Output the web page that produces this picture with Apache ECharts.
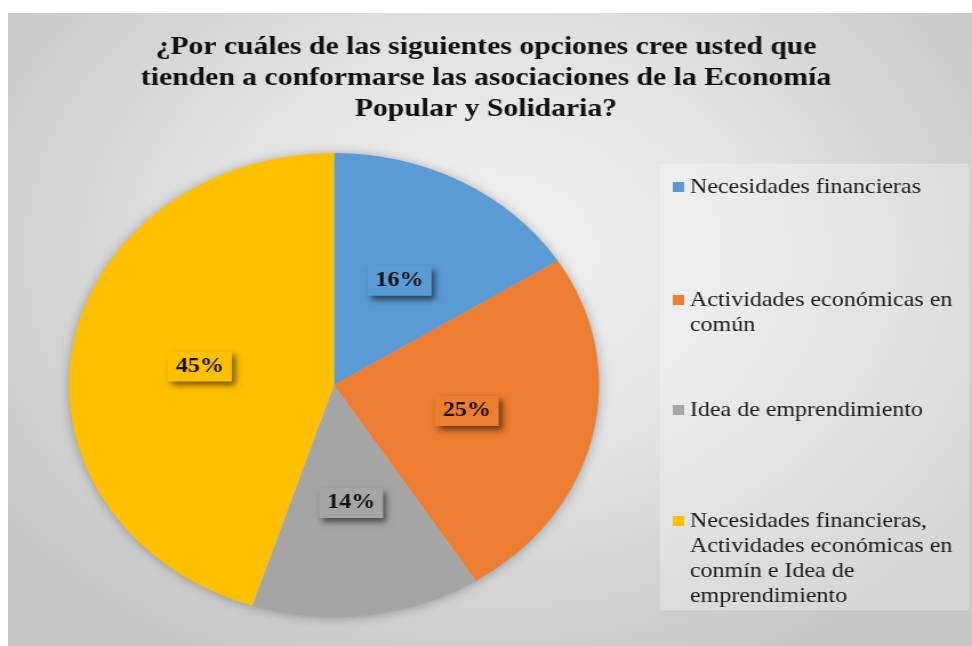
<!DOCTYPE html>
<html>
<head>
<meta charset="utf-8">
<script src="https://cdn.jsdelivr.net/npm/echarts/dist/echarts.min.js"></script>
<style>
  html, body { margin: 0; padding: 0; background: #ffffff; }
  #page { position: relative; width: 972px; height: 646px; overflow: hidden; background: #ffffff; }
  #bg { position: absolute; left: 8px; top: 13px; width: 964px; height: 633px;
        background: radial-gradient(ellipse 62% 72% at 50% 38%, #f2f2f2 0%, #e3e3e3 45%, #c6c6c6 100%); }
  #chart { position: absolute; left: 0; top: 0; width: 851px; height: 646px;
           transform: scaleX(1.1422); transform-origin: 0 0; }
</style>
</head>
<body>
<div id="page">
  <div id="bg"></div>
  <div id="chart"></div>
</div>
<script>
// ---- data ----
const titleText = '¿Por cuáles de las siguientes opciones cree usted que\ntienden a conformarse las asociaciones de la Economía\nPopular y Solidaria?';
const categories = [
  'Necesidades financieras',
  'Actividades económicas en común',
  'Idea de emprendimiento',
  'Necesidades financieras, Actividades económicas en conmín e Idea de emprendimiento'
];
const legendLines = [
  ['Necesidades financieras'],
  ['Actividades económicas en', 'común'],
  ['Idea de emprendimiento'],
  ['Necesidades financieras,', 'Actividades económicas en', 'conmín e Idea de', 'emprendimiento']
];
const values = [16, 25, 14, 45];

// ---- styles ----
const palette = ['#5b9bd5', '#ed7d31', '#a5a5a5', '#ffc000'];
const serif = '"Liberation Serif", "Times New Roman", "DejaVu Serif", serif';
const legendTops = [174.5, 287.5, 397.5, 508.5];

const chart = echarts.init(document.getElementById('chart'), null, { renderer: 'canvas' });

const rich = {
  g: { width: 5, lineHeight: 25 },
  s: { width: 15, lineHeight: 25 },
  t: { fontFamily: serif, fontSize: 21, color: '#1a1a1a', lineHeight: 25, verticalAlign: 'middle' }
};
palette.forEach((c, i) => {
  rich['m' + i] = { width: 10, height: 10, backgroundColor: c, lineHeight: 25, verticalAlign: 'middle' };
});

const legends = categories.map((name, i) => ({
  data: [name],
  orient: 'vertical',
  left: 584,
  top: legendTops[i],
  padding: 0,
  icon: 'none',
  itemWidth: 0,
  itemHeight: 10,
  formatter: function (n) {
    const k = categories.indexOf(n);
    return legendLines[k].map((line, j) =>
      (j === 0 ? '{m' + k + '|}{g|}' : '{s|}') + '{t|' + line + '}'
    ).join('\n');
  },
  textStyle: { rich: rich, lineHeight: 25 }
}));

const pieData = categories.map((name, i) => ({
  name: name,
  value: values[i],
  itemStyle: { color: palette[i] },
  label: { backgroundColor: palette[i] }
}));

chart.setOption({
  animation: false,
  backgroundColor: 'transparent',
  title: {
    text: titleText,
    left: 'center',
    top: 32,
    padding: [0, 0, 0, 16],
    textStyle: {
      fontFamily: serif,
      fontWeight: 'bold',
      fontSize: 26,
      lineHeight: 31,
      color: '#111111'
    }
  },
  legend: legends,
  graphic: [{
    type: 'rect',
    z: -1,
    shape: { x: 578, y: 164, width: 270, height: 446 },
    style: { fill: 'rgba(255,255,255,0.28)', stroke: 'rgba(255,255,255,0.15)', lineWidth: 1 },
    silent: true
  }],
  series: [
    {
      type: 'pie',
      silent: true,
      z: 1,
      center: [292.5, 385],
      radius: 231,
      label: { show: false },
      labelLine: { show: false },
      itemStyle: { color: '#bdbdbd', shadowBlur: 12, shadowColor: 'rgba(0,0,0,0.35)', shadowOffsetY: 1 },
      data: [{ value: 1, name: '' }]
    },
    {
      type: 'pie',
      z: 2,
      center: [292.5, 385],
      radius: 232,
      startAngle: 90,
      clockwise: true,
      itemStyle: { borderWidth: 0 },
      label: {
        show: true,
        position: 'inside',
        formatter: '{d}%',
        fontFamily: serif,
        fontWeight: 'bold',
        fontSize: 21,
        color: '#111111',
        padding: [5, 7, 4, 7],
        shadowBlur: 6,
        shadowColor: 'rgba(0,0,0,0.55)',
        shadowOffsetX: 3,
        shadowOffsetY: 4
      },
      labelLine: { show: false },
      emphasis: { disabled: true },
      data: pieData
    }
  ]
});
</script>
</body>
</html>
